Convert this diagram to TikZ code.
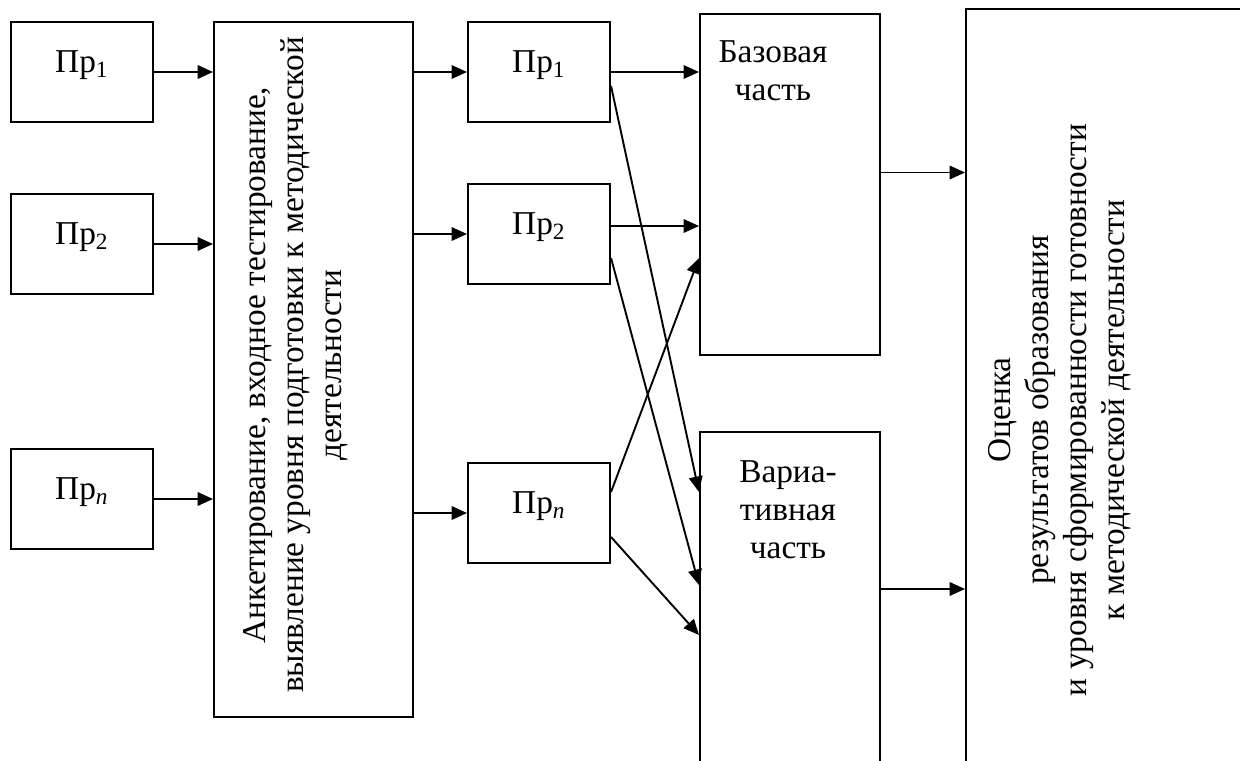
\documentclass[tikz,border=0pt]{standalone}
\usepackage{fontspec}
\setmainfont{Liberation Serif}
\usetikzlibrary{arrows.meta,calc}
\begin{document}
\begin{tikzpicture}[x=0.42pt,y=-0.42pt,
  every node/.style={font=\fontsize{14}{16}\selectfont},
  box/.style 2 args={draw,line width=0.85pt,anchor=north west,inner sep=0pt,
    minimum width=#1*0.42pt,minimum height=#2*0.42pt},
  pr/.style={box={142}{100},text depth=9pt},
  txt/.style={align=center,inner sep=0pt},
  arr/.style={line width=0.8pt,-{Triangle[length=6.5pt,width=5.7pt]}}]
  \useasboundingbox (0,0) rectangle (1240,761);
  \clip (0,0) rectangle (1240,761);
  \node[pr] (L1) at (10,21)  {Пр\textsubscript{1}};
  \node[pr] (L2) at (10,193) {Пр\textsubscript{2}};
  \node[pr] (Ln) at (10,448) {Пр\textsubscript{\textit{n}}};
  \node[box={199}{695}] (A) at (213,21) {};
  \node[txt,rotate=90] (At) at (296,365) {Анкетирование,  входное тестирование,\\выявление уровня подготовки к методической\\деятельности};
  \node[pr] (M1) at (467,21)  {Пр\textsubscript{1}};
  \node[pr] (M2) at (467,183) {Пр\textsubscript{2}};
  \node[pr] (Mn) at (467,462) {Пр\textsubscript{\textit{n}}};
  \node[box={180}{341}] (B) at (699,13) {};
  \node[txt,anchor=north] (Bt) at (773,40) {Базовая\\часть};
  \node[box={180}{400}] (V) at (699,431) {};
  \node[txt,anchor=north] (Vt) at (788,460) {Вариа-\\тивная\\часть};
  \node[box={320}{800}] (O) at (965,8) {};
  \node[txt,rotate=90] (Ot) at (1060,410) {Оценка\\результатов образования\\и уровня сформированности готовности\\к методической  деятельности};
  \draw[arr] (L1) -- (L1 -| A.west);
  \draw[arr] (L2) -- (L2 -| A.west);
  \draw[arr] (Ln) -- (Ln -| A.west);
  \draw[arr] (A.east |- M1) -- (M1);
  \draw[arr] (A.east |- M2) -- (M2);
  \draw[arr] (A.east |- Mn) -- (Mn);
  \coordinate (m2b) at ($(M2.east)+(0,-8)$);
  \coordinate (bo) at ($(B.east)+(0,-12)$);
  \coordinate (vo) at ($(V.north east)+(0,158)$);
  \draw[arr] (M1) -- (M1 -| B.west);
  \draw[arr] (m2b) -- (m2b -| B.west);
  \draw[arr] ($(M1.east)+(0,14)$) -- ($(V.north west)+(0,61)$);
  \draw[arr] ($(M2.east)+(0,24)$) -- ($(V.north west)+(0,154)$);
  \draw[arr] ($(Mn.east)+(0,-21)$) -- ($(B.north west)+(0,245)$);
  \draw[arr] ($(Mn.east)+(0,24)$) -- ($(V.north west)+(0,204)$);
  \draw[arr] (bo) -- (bo -| O.west);
  \draw[arr] (vo) -- (vo -| O.west);
\end{tikzpicture}
\end{document}
